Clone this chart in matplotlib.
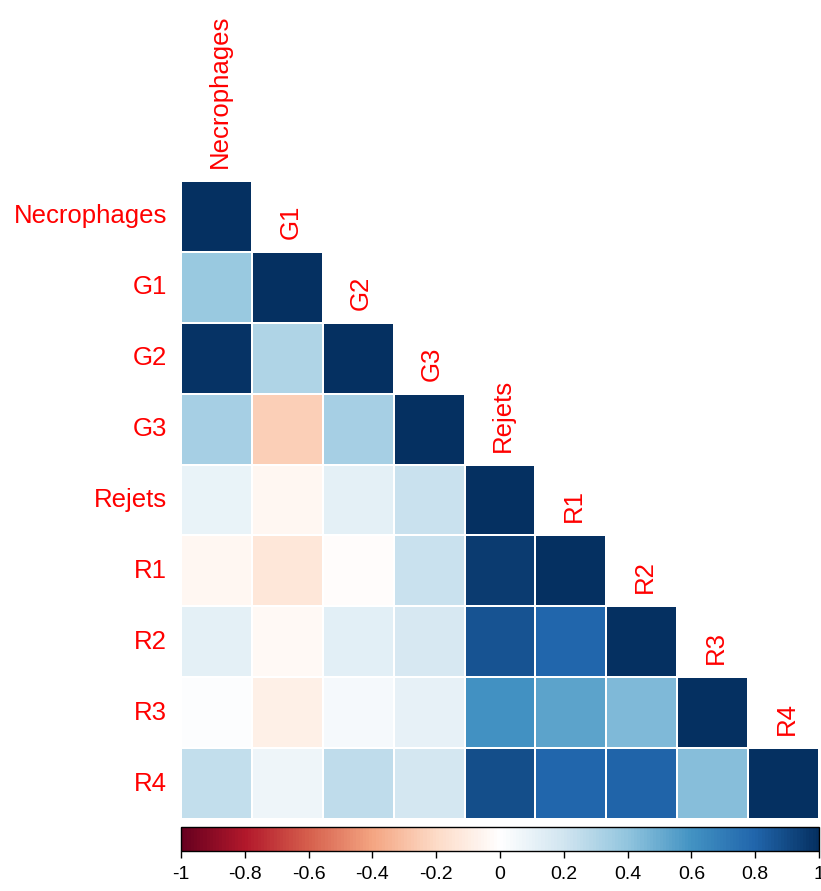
import numpy as np
import matplotlib
matplotlib.use("Agg")
import matplotlib.pyplot as plt
from matplotlib.colors import LinearSegmentedColormap

plt.rcParams['font.family'] = ['Liberation Sans', 'DejaVu Sans']

labels = ["Necrophages", "G1", "G2", "G3", "Rejets", "R1", "R2", "R3", "R4"]

# lower-triangle correlation rows (values left of the diagonal)
row_necrophages = []
row_g1 = [0.37]
row_g2 = [0.98, 0.30]
row_g3 = [0.33, -0.25, 0.33]
row_rejets = [0.09, -0.05, 0.11, 0.22]
row_r1 = [-0.05, -0.14, -0.02, 0.22, 0.95]
row_r2 = [0.11, -0.04, 0.12, 0.17, 0.86, 0.79]
row_r3 = [0.01, -0.09, 0.04, 0.10, 0.60, 0.53, 0.44]
row_r4 = [0.24, 0.07, 0.25, 0.18, 0.88, 0.79, 0.80, 0.42]

rows = [row_necrophages, row_g1, row_g2, row_g3, row_rejets, row_r1, row_r2, row_r3, row_r4]

cbar_ticks = [-1, -0.8, -0.6, -0.4, -0.2, 0, 0.2, 0.4, 0.6, 0.8, 1]
cbar_ticklabels = ["-1", "-0.8", "-0.6", "-0.4", "-0.2", "0", "0.2", "0.4", "0.6", "0.8", "1"]

n = len(labels)
M = np.full((n, n), np.nan)
for i, r in enumerate(rows):
    for j, v in enumerate(r):
        M[i, j] = v
    M[i, i] = 1.0
Mm = np.ma.masked_invalid(M)

cmap = LinearSegmentedColormap.from_list(
    "corrRdBu",
    ["#67001F", "#B2182B", "#D6604D", "#F4A582", "#FDDBC7", "#FFFFFF",
     "#D1E5F0", "#92C5DE", "#4393C3", "#2166AC", "#053061"], N=200)

W, H = 821, 891
fig = plt.figure(figsize=(W / 100, H / 100), dpi=100)

x0, x1 = 181, 819
y0, y1 = 181, 819
ax = fig.add_axes([x0 / W, 1 - y1 / H, (x1 - x0) / W, (y1 - y0) / H])
ax.pcolormesh(np.arange(n + 1), np.arange(n + 1), Mm, cmap=cmap, vmin=-1, vmax=1,
              edgecolors="white", linewidth=1.2)
ax.set_xlim(0, n)
ax.set_ylim(n, 0)
ax.axis("off")

red = "#FF0000"
fs = 18.5
for i, lab in enumerate(labels):
    # left labels
    ax.annotate(lab, xy=(0, i + 0.5), xycoords="data", xytext=(-14, 0),
                textcoords="offset pixels", ha="right", va="center",
                color=red, fontsize=fs)
    # top labels, above the diagonal cell
    ax.annotate(lab, xy=(i + 0.5, i), xycoords="data", xytext=(3, 13),
                textcoords="offset pixels", ha="center", va="bottom",
                rotation=90, color=red, fontsize=fs, rotation_mode="default")

# colorbar
cb_top, cb_bot = 827, 851
cax = fig.add_axes([x0 / W, 1 - cb_bot / H, (x1 - x0) / W, (cb_bot - cb_top) / H])
sm = matplotlib.cm.ScalarMappable(cmap=cmap, norm=matplotlib.colors.Normalize(-1, 1))
cb = fig.colorbar(sm, cax=cax, orientation="horizontal", ticks=cbar_ticks)
cb.ax.set_xticklabels(cbar_ticklabels)
cb.ax.tick_params(length=5, width=1, labelsize=14, pad=6, colors="black")
cb.outline.set_edgecolor("black")
cb.outline.set_linewidth(1)

fig.savefig("out.png", dpi=100)
